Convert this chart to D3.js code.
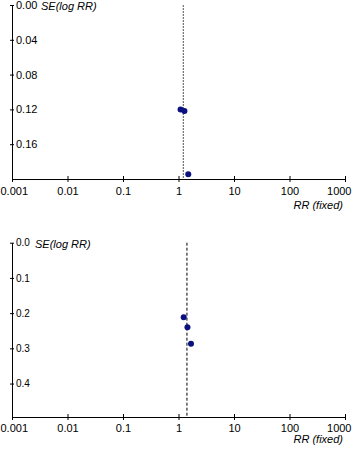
<!DOCTYPE html>
<html><head><meta charset="utf-8">
<script src="https://cdn.jsdelivr.net/npm/d3@7"></script>
<style>
html,body{margin:0;padding:0;background:#fff;}
svg{display:block;font-family:"Liberation Sans",Arial,sans-serif;}
</style></head>
<body>
<script>
// Data
const xTicks = [0.001, 0.01, 0.1, 1, 10, 100, 1000];
const xTickLabels = ["0.001", "0.01", "0.1", "1", "10", "100", "1000"];
const topRR = [1.09, 1.28, 1.50];
const topSE = [0.1202, 0.1218, 0.1945];
const topPooled = 1.22;
const topYTicks = [0, 0.04, 0.08, 0.12, 0.16];
const topYTickLabels = ["0.00", "0.04", "0.08", "0.12", "0.16"];
const botRR = [1.24, 1.45, 1.68];
const botSE = [0.212, 0.240, 0.287];
const botPooled = 1.42;
const botYTicks = [0, 0.1, 0.2, 0.3, 0.4];
const botYTickLabels = ["0.0", "0.1", "0.2", "0.3", "0.4"];
const yTitle = "SE(log RR)";
const xTitle = "RR (fixed)";

const W = 355, H = 451;
const svg = d3.select("body").append("svg").attr("width", W).attr("height", H);

function panel(cfg) {
  const g = svg.append("g");
  const x = d3.scaleLog().domain([0.001, 1000]).range([12, 345]);
  const y = d3.scaleLinear().domain([0, cfg.yMax]).range([cfg.top, cfg.bottom]);

  // pooled line
  g.append("line")
    .attr("x1", x(cfg.pooled)).attr("x2", x(cfg.pooled))
    .attr("y1", y(0)).attr("y2", y(cfg.yMax))
    .attr("stroke", cfg.dashColor).attr("stroke-width", 1)
    .attr("stroke-dasharray", cfg.dash);

  // x axis
  const xa = g.append("g").attr("transform", `translate(0,${cfg.bottom})`)
    .call(d3.axisBottom(x).tickValues(xTicks)
      .tickFormat((d, i) => xTickLabels[i]).tickSize(3).tickPadding(cfg.xPad).tickSizeOuter(0));
  xa.select(".domain").attr("stroke", "#000");
  xa.selectAll(".tick line").attr("y1", -3).attr("y2", 3).attr("stroke", "#000");
  xa.selectAll(".tick text").attr("font-size", 11).attr("fill", "#000")
    .attr("font-family", "Liberation Sans, Arial, sans-serif");
  const tt = xa.selectAll(".tick text").nodes();
  d3.select(tt[0]).attr("text-anchor", "start").attr("x", -12);
  d3.select(tt[tt.length - 1]).attr("text-anchor", "end").attr("x", 6);

  // y axis
  const ya = g.append("g").attr("transform", `translate(12,0)`)
    .call(d3.axisRight(y).tickValues(cfg.yTicks)
      .tickFormat((d, i) => cfg.yTickLabels[i]).tickSize(2).tickPadding(2).tickSizeOuter(0));
  ya.select(".domain").attr("stroke", "#000");
  ya.selectAll(".tick line").attr("x1", -2).attr("x2", 2).attr("stroke", "#000");
  ya.selectAll(".tick text").attr("font-size", cfg.yFont).attr("fill", "#000")
    .attr("font-family", "Liberation Sans, Arial, sans-serif");

  // titles
  g.append("text").attr("x", cfg.yTitleX).attr("y", cfg.top + 5)
    .attr("font-size", 11).attr("font-style", "italic").attr("fill", "#000")
    .text(yTitle);
  g.append("text").attr("x", 343).attr("y", cfg.bottom + cfg.xTitleOff)
    .attr("text-anchor", "end")
    .attr("font-size", 11).attr("font-style", "italic").attr("fill", "#000")
    .text(xTitle);

  // points
  g.selectAll("circle.pt").data(cfg.rr).enter().append("circle")
    .attr("class", "pt")
    .attr("cx", d => x(d))
    .attr("cy", (d, i) => y(cfg.se[i]))
    .attr("r", 3)
    .attr("fill", "#0a1080");
}

panel({top: 5, bottom: 179, yMax: 0.2, yTicks: topYTicks, yTickLabels: topYTickLabels,
  rr: topRR, se: topSE, pooled: topPooled, dash: "2,1", dashColor: "#555", yTitleX: 41,
  yFont: 11, xPad: 5, xTitleOff: 30});
panel({top: 242.7, bottom: 417, yMax: 0.495, yTicks: botYTicks, yTickLabels: botYTickLabels,
  rr: botRR, se: botSE, pooled: botPooled, dash: "3,2", dashColor: "#000", yTitleX: 35,
  yFont: 10, xPad: 4, xTitleOff: 26});
</script>
</body></html>
